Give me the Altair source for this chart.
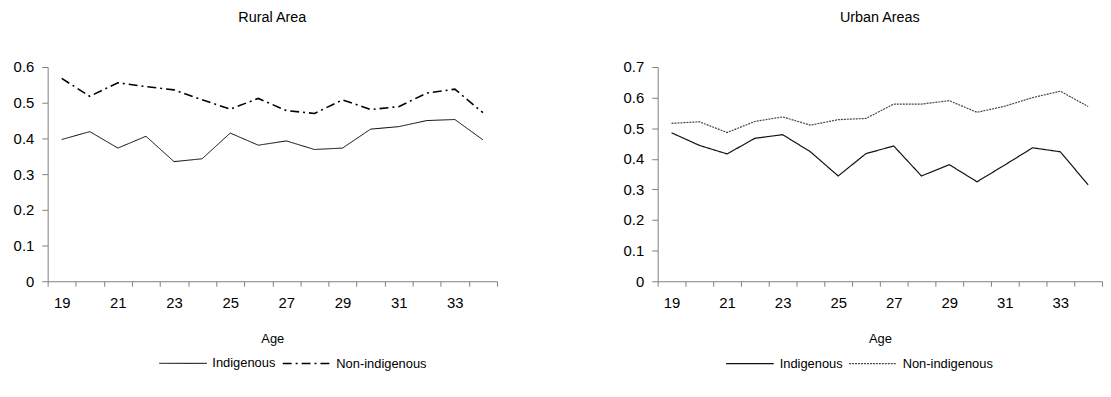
import altair as alt
import pandas as pd

ages = list(range(19, 35))
series = ["Indigenous", "Non-indigenous"]

rural_indigenous = [0.397, 0.419, 0.373, 0.406, 0.335, 0.343, 0.415, 0.381,
                    0.393, 0.369, 0.373, 0.426, 0.433, 0.450, 0.453, 0.396]
rural_non_indigenous = [0.568, 0.518, 0.556, 0.545, 0.536, 0.508, 0.482, 0.512,
                        0.478, 0.470, 0.508, 0.481, 0.489, 0.527, 0.538, 0.472]
urban_indigenous = [0.485, 0.444, 0.416, 0.467, 0.479, 0.423, 0.344, 0.417,
                    0.442, 0.344, 0.381, 0.325, 0.380, 0.436, 0.423, 0.315]
urban_non_indigenous = [0.516, 0.521, 0.486, 0.522, 0.537, 0.510, 0.528, 0.532,
                        0.579, 0.579, 0.590, 0.552, 0.572, 0.600, 0.621, 0.571]

rural_ticks = [0, 0.1, 0.2, 0.3, 0.4, 0.5, 0.6]
urban_ticks = [0, 0.1, 0.2, 0.3, 0.4, 0.5, 0.6, 0.7]


def frame(a, b):
    rows = []
    for s, vals in zip(series, [a, b]):
        for age, v in zip(ages, vals):
            rows.append({"Age": age, "Series": s, "Value": v})
    return pd.DataFrame(rows)


FONT = "Liberation Sans"
H = 216

x_enc = alt.X(
    "Age:O",
    scale=alt.Scale(type="band", paddingInner=0, paddingOuter=0, domain=ages),
    axis=alt.Axis(
        title="Age", labelAngle=0, tickBand="extent",
        labelExpr="datum.value % 2 == 1 ? datum.label : ''",
        tickSize=5, labelPadding=9, titlePadding=23,
    ),
)

def y_enc(ticks):
    return alt.Y(
        "Value:Q",
        scale=alt.Scale(domain=[ticks[0], ticks[-1]], nice=False),
        axis=alt.Axis(title=None, values=ticks, format=".1~f", tickSize=6,
                      labelPadding=8, grid=False),
    )

def legend(x, **kw):
    return alt.Legend(orient="none", legendX=x, legendY=274, direction="horizontal",
                      title=None, symbolType="stroke", symbolSize=2304,
                      labelFontSize=13, labelFont=FONT, columnPadding=3,
                      labelOffset=5, **kw)

rural = alt.Chart(frame(rural_indigenous, rural_non_indigenous)).mark_line(
    color="black"
).encode(
    x=x_enc,
    y=y_enc(rural_ticks),
    strokeDash=alt.StrokeDash(
        "Series:N",
        scale=alt.Scale(domain=series, range=[[1, 0], [9, 4, 2, 4]]),
        legend=legend(112, symbolStrokeColor="black"),
    ),
    strokeWidth=alt.StrokeWidth(
        "Series:N",
        scale=alt.Scale(domain=series, range=[1, 1.6]),
        legend=legend(112),
    ),
).properties(
    width=453, height=H,
    title=alt.TitleParams("Rural Area", fontSize=14.5, font=FONT, fontWeight="normal", offset=35),
)

urban = alt.Chart(frame(urban_indigenous, urban_non_indigenous)).mark_line(
    strokeWidth=1.2
).encode(
    x=x_enc,
    y=y_enc(urban_ticks),
    color=alt.Color(
        "Series:N",
        scale=alt.Scale(domain=series, range=["#111111", "#444444"]),
        legend=legend(68, symbolDash=[2, 1], symbolStrokeWidth=1.2),
    ),
    strokeDash=alt.StrokeDash(
        "Series:N",
        scale=alt.Scale(domain=series, range=[[1, 0], [2, 1]]),
        legend=None,
    ),
).properties(
    width=448, height=H,
    title=alt.TitleParams("Urban Areas", fontSize=14.5, font=FONT, fontWeight="normal", offset=35),
)

chart = alt.hconcat(rural, urban, spacing=126).resolve_scale(
    strokeDash="independent", color="independent", strokeWidth="independent", y="independent"
).configure_view(stroke=None).configure_axis(
    labelFont=FONT, titleFont=FONT, labelFontSize=15, titleFontSize=13,
    titleFontWeight="normal", labelColor="black", titleColor="black",
    domainColor="#808080", tickColor="#808080",
).properties(padding={"left": 5, "top": 0, "right": 0, "bottom": 0})

chart.save("out.html", embed_options={"renderer": "svg", "actions": False})
